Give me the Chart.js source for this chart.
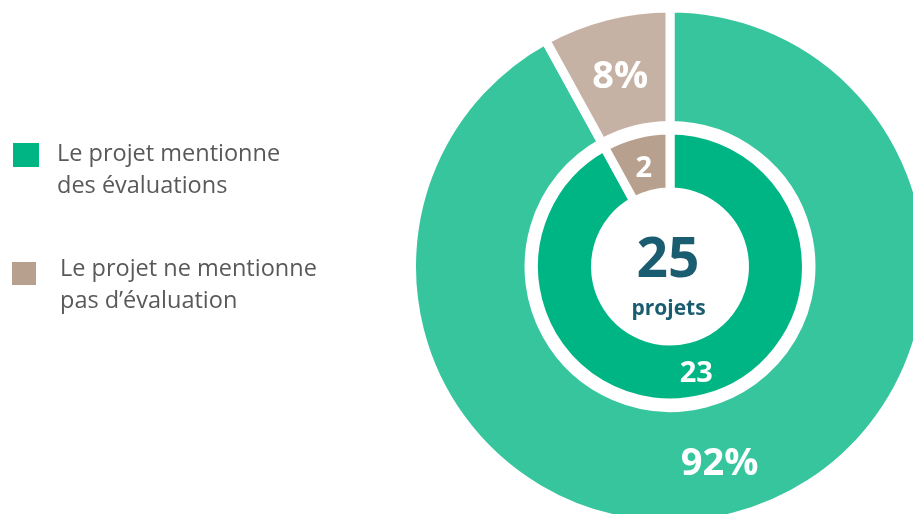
<!DOCTYPE html>
<html lang="fr">
<head>
<meta charset="utf-8">
<title>Évaluations des projets</title>
<script src="https://cdn.jsdelivr.net/npm/chart.js@4.4.1/dist/chart.umd.min.js"></script>
<style>
  html, body { margin: 0; padding: 0; background: #ffffff; overflow: hidden; }
  #wrap { position: relative; width: 913px; height: 514px; overflow: hidden; }
  canvas { display: block; }
</style>
</head>
<body>
<div id="wrap"><canvas id="chart" width="913" height="514"></canvas></div>
<script>
// Categories (legend text, split over two lines each)
const categories = [
  ['Le projet mentionne', 'des évaluations'],
  ['Le projet ne mentionne', 'pas d’évaluation']
];
// Number of projects per category (inner ring)
const projectCounts = [23, 2];
// Share of projects per category, in percent (outer ring)
const percentShares = [92, 8];
// Caption under the total in the middle
const centerCaption = 'projets';

const outerColors = ['#36C59D', '#C5B2A4'];
const innerColors = ['#00B584', '#B8A08E'];
const FONT = "'Open Sans', 'Noto Sans', sans-serif";

// Percent labels on the outer ring, counts on the inner ring
const sliceLabels = {
  id: 'sliceLabels',
  afterDatasetsDraw(chart) {
    const ctx = chart.ctx;
    ctx.save();
    ctx.fillStyle = '#ffffff';
    ctx.textAlign = 'center';
    ctx.textBaseline = 'alphabetic';
    const rings = [
      { index: 0, values: percentShares, suffix: '%', size: 38, shift: 1.5 },
      { index: 2, values: projectCounts, suffix: '', size: 29, shift: 2.5 }
    ];
    rings.forEach(ring => {
      const meta = chart.getDatasetMeta(ring.index);
      meta.data.forEach((arc, i) => {
        const p = arc.tooltipPosition();
        ctx.font = `700 ${ring.size}px ${FONT}`;
        ctx.fillText(ring.values[i] + ring.suffix, p.x, p.y + ring.size * 0.36 + ring.shift);
      });
    });
    ctx.restore();
  }
};

// Total number of projects in the hole
const centerTotal = {
  id: 'centerTotal',
  afterDatasetsDraw(chart) {
    const arc = chart.getDatasetMeta(2).data[0];
    const total = projectCounts.reduce((a, b) => a + b, 0);
    const ctx = chart.ctx;
    ctx.save();
    ctx.fillStyle = '#1A5C70';
    ctx.textAlign = 'center';
    ctx.textBaseline = 'alphabetic';
    ctx.font = `700 55px ${FONT}`;
    ctx.fillText(String(total), arc.x - 2, arc.y + 10.5);
    ctx.font = `700 21px ${FONT}`;
    ctx.fillText(centerCaption, arc.x - 1.5, arc.y + 48.5);
    ctx.restore();
  }
};

// Legend on the left: coloured square plus two lines of text
const sideLegend = {
  id: 'sideLegend',
  afterDraw(chart) {
    const ctx = chart.ctx;
    const items = [
      { box: [13, 143, 26, 24], textX: 57, baseline: 161 },
      { box: [12, 262, 24, 23], textX: 60, baseline: 276 }
    ];
    ctx.save();
    ctx.textAlign = 'left';
    ctx.textBaseline = 'alphabetic';
    ctx.font = `400 23.5px ${FONT}`;
    items.forEach((it, i) => {
      ctx.fillStyle = innerColors[i];
      ctx.fillRect(...it.box);
      ctx.fillStyle = '#595959';
      categories[i].forEach((line, k) => {
        ctx.fillText(line, it.textX, it.baseline + k * 32);
      });
    });
    ctx.restore();
  }
};

new Chart(document.getElementById('chart'), {
  type: 'doughnut',
  data: {
    labels: categories.map(l => l.join(' ')),
    datasets: [
      {
        data: percentShares,
        backgroundColor: outerColors,
        borderColor: '#ffffff',
        borderWidth: 9,
        weight: 117.5,
        clip: false
      },
      {
        data: [1],
        backgroundColor: 'rgba(0,0,0,0)',
        borderWidth: 0,
        weight: 4.5,
        clip: false
      },
      {
        data: projectCounts,
        backgroundColor: innerColors,
        borderColor: '#ffffff',
        borderWidth: 9,
        weight: 62,
        clip: false
      }
    ]
  },
  options: {
    responsive: false,
    animation: false,
    devicePixelRatio: 1,
    radius: 258.5,
    cutout: '28.82%',
    rotation: 0,
    layout: { padding: { left: 427, right: 0, top: 19, bottom: 0 } },
    plugins: {
      legend: { display: false },
      tooltip: { enabled: false }
    },
    events: []
  },
  plugins: [sliceLabels, centerTotal, sideLegend]
});
</script>
</body>
</html>
